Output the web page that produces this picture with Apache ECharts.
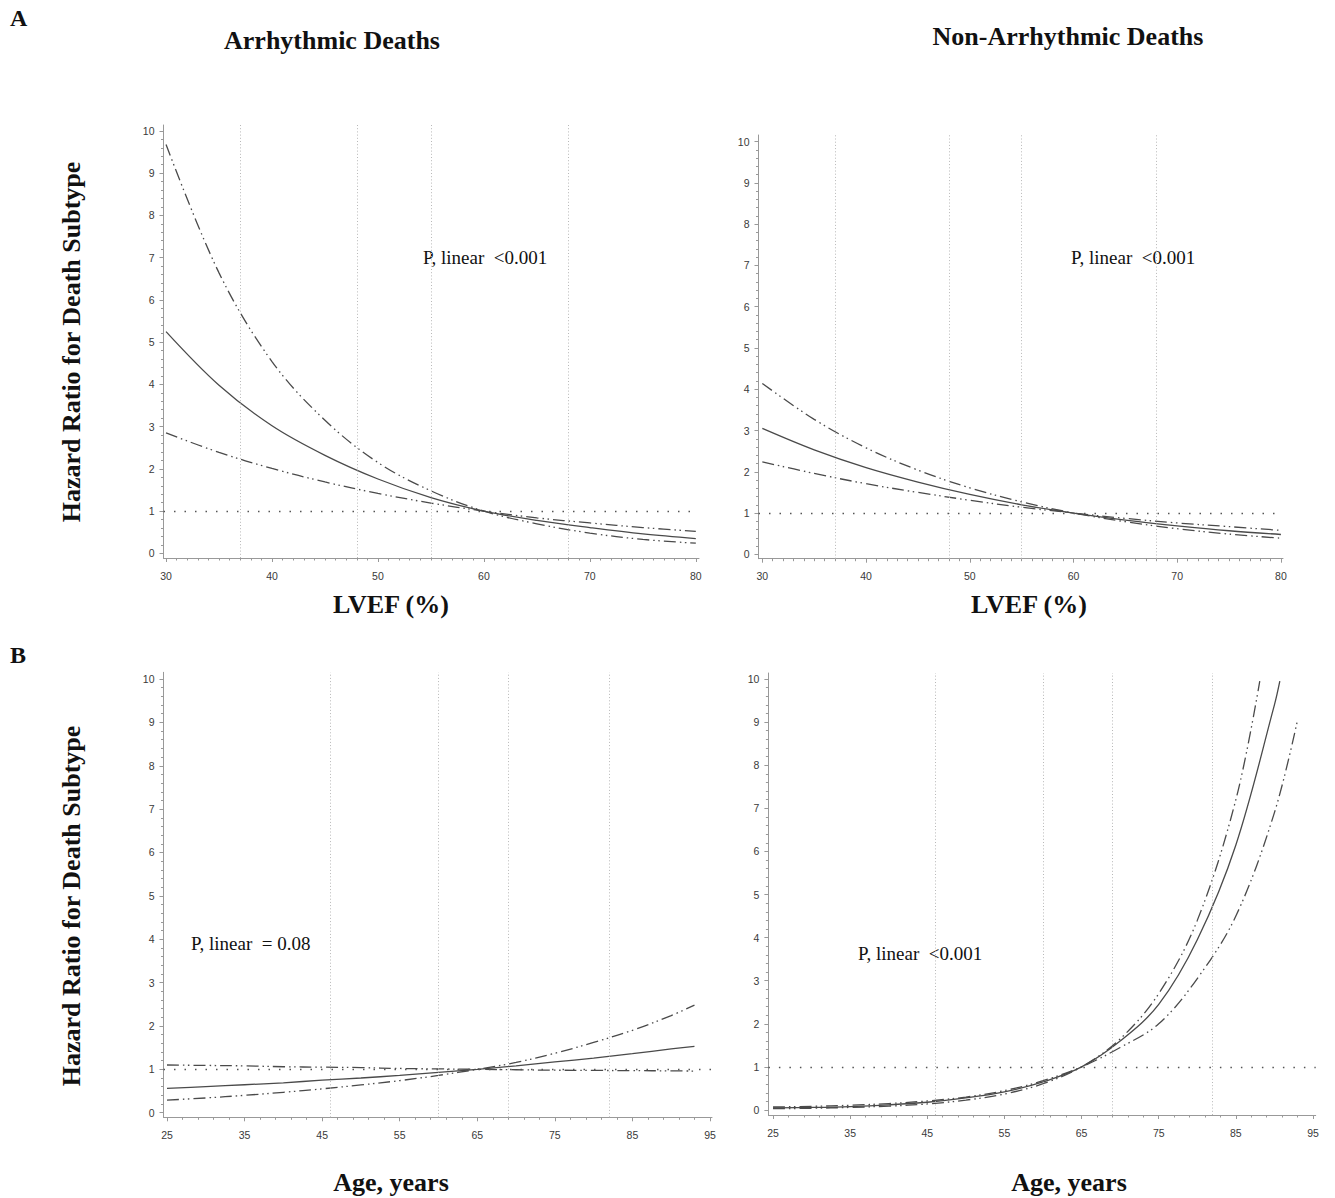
<!DOCTYPE html>
<html>
<head>
<meta charset="utf-8">
<script src="https://cdn.jsdelivr.net/npm/echarts@6/dist/echarts.min.js"></script>
<style>
html,body{margin:0;padding:0;background:#ffffff;}
#chart{width:1335px;height:1198px;}
</style>
</head>
<body>
<div id="chart"></div>
<script>
// ---------------- DATA ----------------
// LVEF panels (x in %)
const lvefX = [30, 35, 40, 45, 50, 55, 60, 65, 70, 75, 80];
const arrLvefHR    = [5.25, 3.98, 3.02, 2.32, 1.76, 1.32, 1.00, 0.78, 0.61, 0.46, 0.35];
const arrLvefCI1   = [9.68, 6.64, 4.54, 3.15, 2.15, 1.48, 1.00, 0.70, 0.48, 0.33, 0.24];
const arrLvefCI2   = [2.85, 2.39, 2.01, 1.69, 1.42, 1.19, 1.00, 0.84, 0.72, 0.61, 0.52];
const nonLvefHR    = [3.05, 2.53, 2.10, 1.75, 1.45, 1.20, 1.00, 0.83, 0.69, 0.57, 0.48];
const nonLvefCI1   = [4.14, 3.27, 2.58, 2.04, 1.61, 1.27, 1.00, 0.79, 0.62, 0.49, 0.39];
const nonLvefCI2   = [2.24, 1.96, 1.71, 1.50, 1.31, 1.14, 1.00, 0.87, 0.76, 0.67, 0.58];

// Age panels (x in years)
const ageX = [25, 30, 35, 40, 45, 50, 55, 60, 65, 70, 75, 80, 85, 90, 93];
const arrAgeHR  = [0.56, 0.60, 0.645, 0.69, 0.75, 0.80, 0.86, 0.93, 1.00, 1.08, 1.17, 1.26, 1.36, 1.47, 1.53];
const arrAgeCI1 = [0.29, 0.34, 0.40, 0.47, 0.55, 0.64, 0.74, 0.86, 1.00, 1.16, 1.37, 1.62, 1.90, 2.24, 2.48];
const arrAgeCI2 = [1.10, 1.09, 1.08, 1.06, 1.05, 1.04, 1.02, 1.01, 1.00, 0.99, 0.98, 0.975, 0.97, 0.965, 0.96];

const nonAgeHR  = [[25,0.05],[30,0.06],[35,0.08],[40,0.12],[45,0.18],[50,0.28],[55,0.42],[60,0.65],[65,1.00],[70,1.60],[75,2.45],[80,3.95],[85,6.15],[90,9.40],[90.7,9.95]];
const nonAgeCI1 = [[25,0.03],[30,0.04],[35,0.06],[40,0.09],[45,0.14],[50,0.23],[55,0.37],[60,0.61],[65,1.00],[70,1.65],[75,2.70],[80,4.40],[85,7.20],[88.1,9.95]];
const nonAgeCI2 = [[25,0.07],[30,0.085],[35,0.11],[40,0.15],[45,0.21],[50,0.30],[55,0.45],[60,0.68],[65,1.00],[70,1.45],[75,2.00],[80,3.05],[85,4.50],[90,6.90],[93,9.05]];

// reference (dotted) lines
const lvefRefLines = [37, 48, 55, 68];
const ageRefLines  = [46, 60, 69, 82];
const hrRef = 1;

// tick labels
const lvefTicks = [30, 40, 50, 60, 70, 80];
const ageTicks  = [25, 35, 45, 55, 65, 75, 85, 95];
const hrTicks   = [0, 1, 2, 3, 4, 5, 6, 7, 8, 9, 10];

// text
const panelTitles = ['Arrhythmic Deaths', 'Non-Arrhythmic Deaths'];
const pTexts = ['P, linear  <0.001', 'P, linear  <0.001', 'P, linear  = 0.08', 'P, linear  <0.001'];
const yTitle = 'Hazard Ratio for Death Subtype';
const xTitles = ['LVEF (%)', 'Age, years'];

// ---------------- helpers ----------------
function zip(xs, ys) { return xs.map((x, i) => [x, ys[i]]); }
function range(a, b, step) { const r = []; for (let v = a; v <= b + 1e-9; v += step) r.push(+v.toFixed(4)); return r; }

const lvefMinor = range(30, 80, 1);
const ageMinor  = range(25, 95, 2);
const hrMinor   = range(0, 10, 0.2);

const AXIS_COLOR = '#999999';
const LABEL_COLOR = '#3a3a3a';
const CURVE_COLOR = '#4a4a4a';
const CI_DASH = [12, 4, 1.5, 3.5, 1.5, 4];
const TICK_FONT = '"Liberation Sans", Arial, sans-serif';

const grids = [
  { left: 163.5, top: 125,   width: 535.5, height: 433,   xr: [29.76, 80.3],  yr: [-0.11, 10.14],  xt: lvefTicks, xm: lvefMinor },
  { left: 758.5, top: 135,   width: 524.5, height: 423.7, xr: [29.63, 80.2],  yr: [-0.107, 10.162], xt: lvefTicks, xm: lvefMinor },
  { left: 163.5, top: 672.3, width: 548.5, height: 445,   xr: [24.55, 95.26], yr: [-0.106, 10.155], xt: ageTicks,  xm: ageMinor },
  { left: 768.4, top: 673,   width: 547.3, height: 442,   xr: [24.40, 95.35], yr: [-0.116, 10.14],  xt: ageTicks,  xm: ageMinor }
];

const gridOpt = [], xAxes = [], yAxes = [];
grids.forEach((g, gi) => {
  gridOpt.push({ left: g.left, top: g.top, width: g.width, height: g.height, containLabel: false });
  xAxes.push({
    type: 'value', gridIndex: gi, position: 'bottom', min: g.xr[0], max: g.xr[1],
    axisLine: { show: true, onZero: false, lineStyle: { color: AXIS_COLOR, width: 1 } },
    axisTick: { show: true, customValues: g.xt, length: 4, lineStyle: { color: AXIS_COLOR } },
    axisLabel: { show: true, customValues: g.xt, fontSize: 10.5, color: LABEL_COLOR, margin: 12, fontFamily: TICK_FONT },
    splitLine: { show: false }
  });
  xAxes.push({
    type: 'value', gridIndex: gi, position: 'bottom', offset: 0, min: g.xr[0], max: g.xr[1],
    axisLine: { show: false, onZero: false },
    axisTick: { show: true, customValues: g.xm, length: 2.5, lineStyle: { color: AXIS_COLOR } },
    axisLabel: { show: false },
    splitLine: { show: false }
  });
  yAxes.push({
    type: 'value', gridIndex: gi, position: 'left', min: g.yr[0], max: g.yr[1],
    axisLine: { show: true, onZero: false, lineStyle: { color: AXIS_COLOR, width: 1 } },
    axisTick: { show: true, customValues: hrTicks, length: 4, lineStyle: { color: AXIS_COLOR } },
    axisLabel: { show: true, customValues: hrTicks, fontSize: 10.5, color: LABEL_COLOR, margin: 9, fontFamily: TICK_FONT },
    splitLine: { show: false }
  });
  yAxes.push({
    type: 'value', gridIndex: gi, position: 'left', offset: 0, min: g.yr[0], max: g.yr[1],
    axisLine: { show: false, onZero: false },
    axisTick: { show: true, customValues: hrMinor, length: 2.5, lineStyle: { color: AXIS_COLOR } },
    axisLabel: { show: false },
    splitLine: { show: false }
  });
});

function refMarkLine(vlines) {
  const data = vlines.map(v => ({ xAxis: v, lineStyle: { color: '#b8b8b8', type: [1, 2.2], width: 1 } }));
  data.push({ yAxis: hrRef, lineStyle: { color: '#555', type: [1.5, 9], width: 1.3 } });
  return { silent: true, symbol: 'none', label: { show: false }, animation: false, data: data };
}

function curve(gi, data, dashed, mark) {
  const s = {
    type: 'line', xAxisIndex: gi * 2, yAxisIndex: gi * 2, data: data,
    showSymbol: false, symbol: 'none', smooth: 0.35, animation: false, z: 3,
    lineStyle: { color: CURVE_COLOR, width: 1.3, type: dashed ? CI_DASH : 'solid' }
  };
  if (mark) s.markLine = mark;
  return s;
}

const series = [
  curve(0, zip(lvefX, arrLvefHR), false, refMarkLine(lvefRefLines)),
  curve(0, zip(lvefX, arrLvefCI1), true),
  curve(0, zip(lvefX, arrLvefCI2), true),
  curve(1, zip(lvefX, nonLvefHR), false, refMarkLine(lvefRefLines)),
  curve(1, zip(lvefX, nonLvefCI1), true),
  curve(1, zip(lvefX, nonLvefCI2), true),
  curve(2, zip(ageX, arrAgeHR), false, refMarkLine(ageRefLines)),
  curve(2, zip(ageX, arrAgeCI1), true),
  curve(2, zip(ageX, arrAgeCI2), true),
  curve(3, nonAgeHR, false, refMarkLine(ageRefLines)),
  curve(3, nonAgeCI1, true),
  curve(3, nonAgeCI2, true)
];

const SERIF = '"Liberation Serif", "Times New Roman", serif';
function txt(text, x, y, size, bold, align, rot) {
  return {
    type: 'text', x: x, y: y, rotation: rot || 0, silent: true,
    style: { text: text, font: (bold ? 'bold ' : '') + size + 'px ' + SERIF, fill: '#111', align: align || 'center', verticalAlign: 'middle' }
  };
}

const graphics = [
  txt('A', 10, 18, 24, true, 'left'),
  txt('B', 10, 655, 24, true, 'left'),
  txt(panelTitles[0], 332, 40, 26, true),
  txt(panelTitles[1], 1068, 36, 26, true),
  txt(yTitle, 71, 342, 26, true, 'center', Math.PI / 2),
  txt(yTitle, 71, 906, 26, true, 'center', Math.PI / 2),
  txt(xTitles[0], 391, 604, 26, true),
  txt(xTitles[0], 1029, 604, 26, true),
  txt(xTitles[1], 391, 1182, 26, true),
  txt(xTitles[1], 1069, 1182, 26, true),
  txt(pTexts[0], 423, 257, 19, false, 'left'),
  txt(pTexts[1], 1071, 257, 19, false, 'left'),
  txt(pTexts[2], 191, 943, 19, false, 'left'),
  txt(pTexts[3], 858, 953, 19, false, 'left')
];

const chart = echarts.init(document.getElementById('chart'), null, { renderer: 'svg', width: 1335, height: 1198 });
chart.setOption({
  backgroundColor: '#ffffff',
  animation: false,
  grid: gridOpt,
  xAxis: xAxes,
  yAxis: yAxes,
  series: series,
  graphic: graphics
});
</script>
</body>
</html>
